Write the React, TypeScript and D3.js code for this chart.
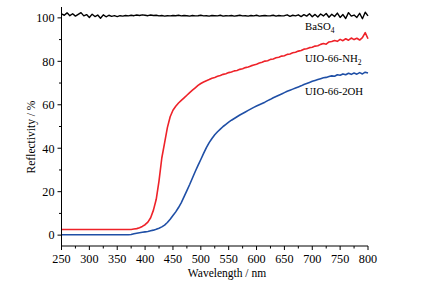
import React from "react";
import * as d3 from "d3";

const W = 423;
const H = 299;

// wavelength grid (nm), 5 nm steps 250..800
const wavelengths: number[] = d3.range(250, 805, 5);

const baso4: number[] = [
  101.8, 101.2, 102.3, 101.0, 101.9, 100.8, 101.6, 102.4, 100.9, 101.5,
  100.2, 101.7, 100.6, 101.3, 99.8, 101.4, 100.5, 101.2, 100.7, 101.0,
  100.6, 101.0, 100.8, 101.1, 100.9, 101.2, 101.0, 101.3, 101.1, 101.4,
  101.2, 101.0, 101.3, 101.1, 101.2, 100.9, 101.1, 100.8, 101.0, 100.9,
  101.1, 101.0, 101.2, 100.9, 101.1, 101.0, 100.8, 101.1, 100.9, 101.0,
  101.2, 100.9, 101.0, 100.8, 101.1, 101.0, 100.9, 101.2, 100.8, 101.0,
  100.9, 101.1, 100.8, 101.0, 101.2, 100.9, 101.0, 100.8, 101.1, 100.9,
  101.2, 100.8, 101.0, 101.1, 100.9, 101.0, 101.2, 100.8, 101.1, 100.9,
  101.0, 101.4, 100.7, 101.2, 100.9, 101.4, 100.6, 101.5, 100.8, 101.9,
  100.5, 101.6, 100.4, 101.8, 100.9, 102.0, 100.3, 101.7, 100.6, 102.2,
  100.2, 101.5, 99.7, 102.4, 100.8, 101.3, 100.2, 102.1, 99.6, 102.6,
  100.9,
];

const uioNH2: number[] = [
  2.6, 2.6, 2.6, 2.6, 2.6, 2.6, 2.6, 2.6, 2.6, 2.6,
  2.6, 2.6, 2.6, 2.6, 2.6, 2.6, 2.6, 2.6, 2.6, 2.6,
  2.6, 2.6, 2.6, 2.6, 2.6, 2.6, 2.8, 3.0, 3.4, 4.0,
  4.8, 6.0, 8.0, 11.5, 16.5, 25.0, 35.5, 42.5, 49.5, 54.5,
  57.5, 59.3, 60.8, 62.0, 63.2, 64.4, 65.6, 66.7, 67.8, 68.9,
  69.8, 70.5, 71.1, 71.6, 72.2, 72.6, 73.1, 73.5, 74.0, 74.3,
  74.8, 75.1, 75.6, 75.8, 76.3, 76.6, 77.1, 77.4, 77.9, 78.3,
  78.7, 79.2, 79.6, 80.1, 80.3, 80.9, 81.1, 81.6, 81.9, 82.4,
  82.6, 83.2, 83.4, 83.9, 84.2, 84.7, 85.0, 85.6, 85.8, 86.3,
  86.5, 87.0, 87.2, 87.8, 88.2, 87.9, 88.9, 89.1, 89.6, 89.2,
  90.1, 89.5, 90.4, 89.7, 90.7, 90.0, 90.6, 89.8, 90.9, 93.2,
  90.4,
];

const uio2OH: number[] = [
  0.2, 0.2, 0.2, 0.2, 0.2, 0.2, 0.2, 0.2, 0.2, 0.2,
  0.2, 0.2, 0.2, 0.2, 0.2, 0.2, 0.2, 0.2, 0.2, 0.2,
  0.2, 0.2, 0.2, 0.2, 0.2, 0.3, 0.6, 0.9, 1.1, 1.3,
  1.5, 1.7, 2.0, 2.3, 2.7, 3.2, 3.8, 4.6, 5.8, 7.3,
  9.0, 10.7, 12.7, 15.0, 17.7, 20.5, 23.3, 26.3, 29.3, 32.1,
  34.8, 37.6, 40.3, 42.6, 44.5, 46.2, 47.6, 48.8, 50.0, 51.0,
  52.0, 52.9, 53.7, 54.5, 55.3, 56.0, 56.7, 57.4, 58.1, 58.8,
  59.4, 60.0, 60.6, 61.2, 61.9, 62.5, 63.2, 63.8, 64.4, 65.0,
  65.6, 66.2, 66.7, 67.2, 67.7, 68.2, 68.7, 69.3, 69.8, 70.3,
  70.8, 71.2, 71.6, 72.0, 72.4, 72.6, 73.0, 73.3, 73.1, 73.8,
  73.6, 74.2, 73.8, 74.5, 74.0, 74.6, 74.1, 74.8, 74.2, 75.0,
  74.6,
];

const xTicks: number[] = [250, 300, 350, 400, 450, 500, 550, 600, 650, 700, 750, 800];
const yTicks: number[] = [0, 20, 40, 60, 80, 100];

const seriesColors: string[] = ["#000000", "#ee2229", "#1f4fa6"];

const margin = { left: 61.5, right: 55, top: 7, bottom: 53 };

export default function App() {
  const x = d3.scaleLinear().domain([250, 800]).range([margin.left, W - margin.right]);
  const y = d3.scaleLinear().domain([-5, 105]).range([H - margin.bottom, margin.top]);

  const line = d3
    .line<number>()
    .x((_, i) => x(wavelengths[i]))
    .y((d) => y(d));

  const series = [baso4, uioNH2, uio2OH];
  const xMinor = d3.range(275, 800, 50);
  const yMinor = d3.range(10, 105, 20);

  const font = "'Liberation Serif', 'Times New Roman', Times, serif";
  const axisY = H - margin.bottom;

  return (
    <svg
      width={W}
      height={H}
      style={{ position: "absolute", left: 0, top: 0, background: "#fff" }}
      fontFamily={font}
    >
      {series.map((s, i) => (
        <path
          key={i}
          d={line(s) || ""}
          fill="none"
          stroke={seriesColors[i]}
          strokeWidth={i === 0 ? 1.4 : 1.6}
          strokeLinejoin="round"
        />
      ))}
      {/* axes */}
      <line x1={margin.left} x2={margin.left} y1={margin.top} y2={axisY} stroke="#000" strokeWidth={1} />
      <line x1={margin.left} x2={x(800)} y1={axisY} y2={axisY} stroke="#000" strokeWidth={1} />
      {xTicks.map((t) => (
        <g key={"xt" + t}>
          <line x1={x(t)} x2={x(t)} y1={axisY} y2={axisY + 4} stroke="#000" />
          <text x={x(t)} y={axisY + 16.5} fontSize={12.2} textAnchor="middle" fill="#000">
            {t}
          </text>
        </g>
      ))}
      {xMinor.map((t) => (
        <line key={"xm" + t} x1={x(t)} x2={x(t)} y1={axisY} y2={axisY + 2.5} stroke="#000" />
      ))}
      {yTicks.map((t) => (
        <g key={"yt" + t}>
          <line x1={margin.left - 4} x2={margin.left} y1={y(t)} y2={y(t)} stroke="#000" />
          <text x={margin.left - 7} y={y(t) + 4.3} fontSize={12.2} textAnchor="end" fill="#000">
            {t}
          </text>
        </g>
      ))}
      {yMinor.map((t) => (
        <line key={"ym" + t} x1={margin.left - 2.5} x2={margin.left} y1={y(t)} y2={y(t)} stroke="#000" />
      ))}
      {/* axis titles */}
      <text x={227} y={277} fontSize={11.5} textAnchor="middle" fill="#000">
        Wavelength / nm
      </text>
      <text
        transform={`translate(34.5, 137) rotate(-90)`}
        fontSize={11.5}
        textAnchor="middle"
        fill="#000"
      >
        Reflectivity / %
      </text>
      {/* series labels */}
      <text x={305} y={29.5} fontSize={10.8} fill="#000">
        BaSO<tspan fontSize={7.5} dy={3}>4</tspan>
      </text>
      <text x={305} y={62} fontSize={10.8} fill="#000">
        UIO-66-NH<tspan fontSize={7.5} dy={3}>2</tspan>
      </text>
      <text x={305} y={94.5} fontSize={10.8} fill="#000">
        UIO-66-2OH
      </text>
    </svg>
  );
}
